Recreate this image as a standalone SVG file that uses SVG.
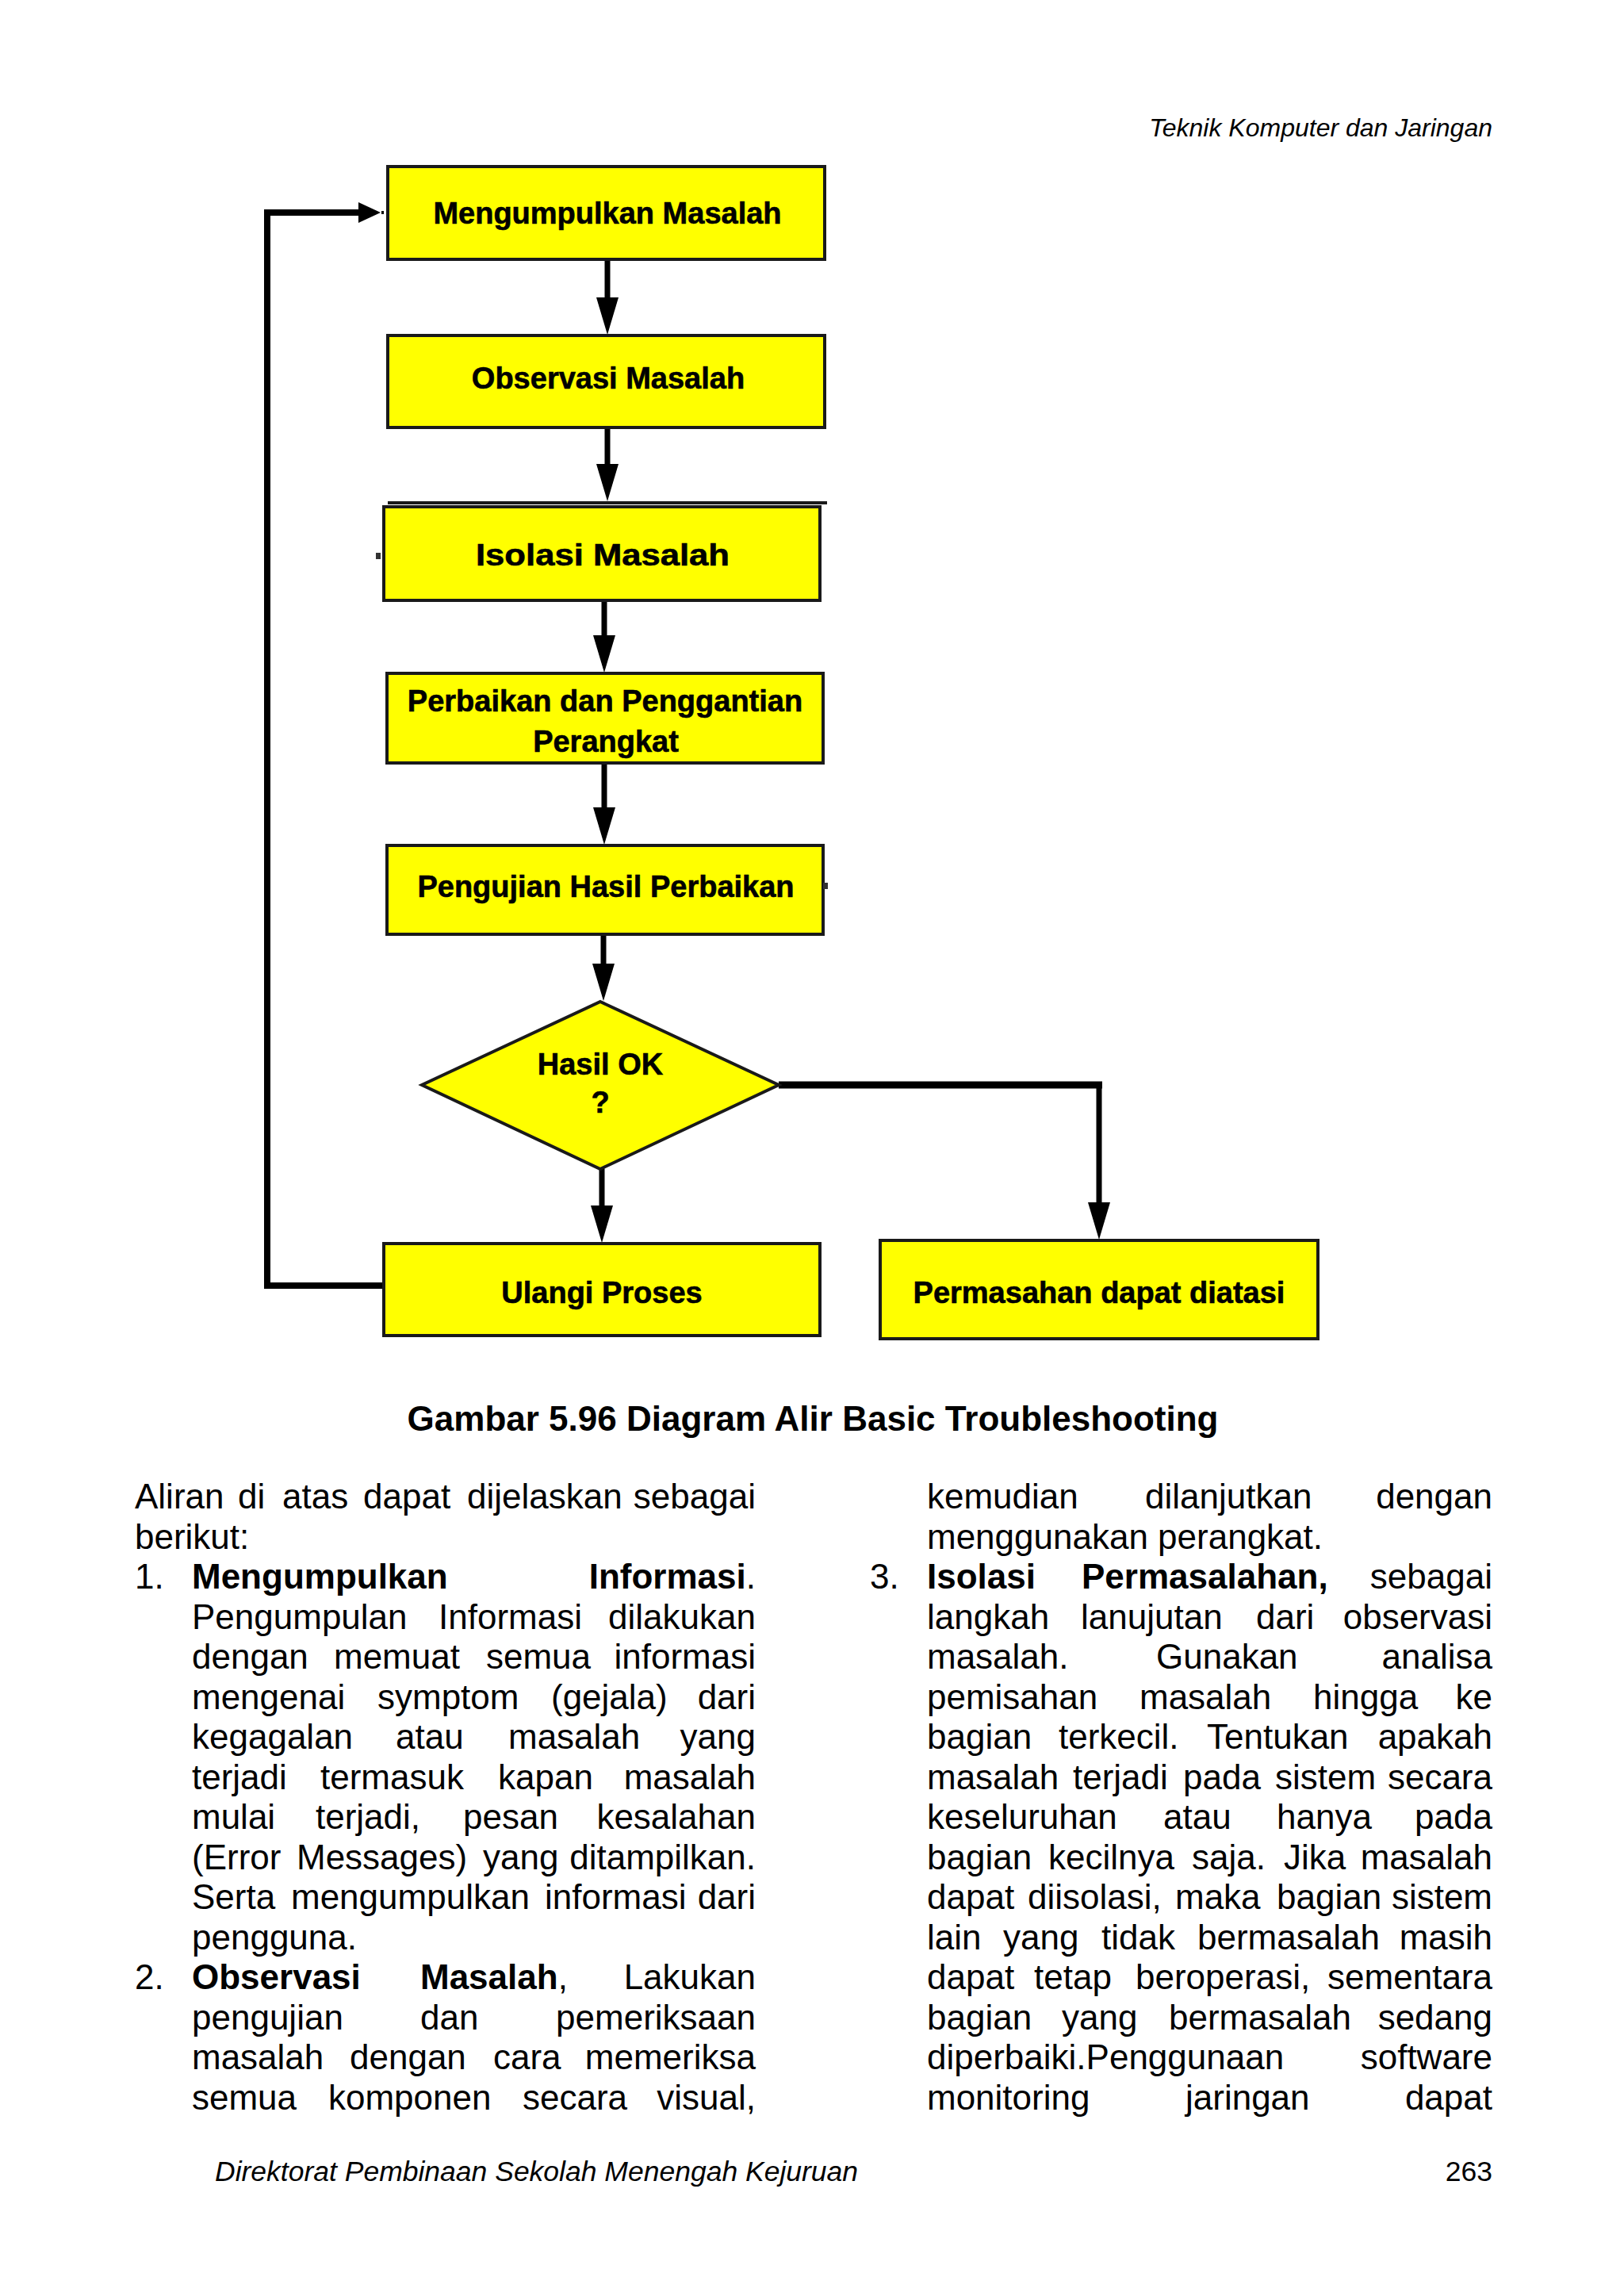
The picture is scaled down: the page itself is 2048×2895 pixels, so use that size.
<svg xmlns="http://www.w3.org/2000/svg" width="2048" height="2895" viewBox="0 0 2048 2895">
<style>
.box{fill:#FFFF00;stroke:#1a1a1a;stroke-width:4}
.lbl{font-family:"Liberation Sans",Arial,sans-serif;font-weight:bold;font-size:38px;fill:#000;stroke:#000;stroke-width:0.6;text-anchor:middle}
.t{font-family:"Liberation Sans",Arial,sans-serif;font-size:44px;fill:#000}
.bd{font-weight:bold}
.e{text-anchor:end}
.cap{font-family:"Liberation Sans",Arial,sans-serif;font-size:44px;font-weight:bold;text-anchor:middle}
.hdr{font-family:"Liberation Sans",Arial,sans-serif;font-style:italic;font-size:32px}
.ftr{font-family:"Liberation Sans",Arial,sans-serif;font-size:35.5px}
.ln{fill:none;stroke:#000;stroke-linejoin:miter}
</style>
<defs>
<marker id="ah" markerUnits="userSpaceOnUse" viewBox="0 0 47 28" markerWidth="47" markerHeight="28" refX="27" refY="14" orient="auto"><path d="M0,0 L47,14 L0,28 Z" fill="#000"/></marker>
<marker id="ah2" markerUnits="userSpaceOnUse" viewBox="0 0 28 26" markerWidth="28" markerHeight="26" refX="10" refY="13" orient="auto"><path d="M0,0 L28,13 L0,26 Z" fill="#000"/></marker>
</defs>
<rect width="2048" height="2895" fill="#ffffff"/>

<text class="hdr" x="1882" y="172" text-anchor="end">Teknik Komputer dan Jaringan</text>

<g id="connectors">
<path class="ln" stroke-width="7" d="M766,327 V402" marker-end="url(#ah)"/>
<path class="ln" stroke-width="7" d="M766,539 V612" marker-end="url(#ah)"/>
<path class="ln" stroke-width="7" d="M762,757 V828" marker-end="url(#ah)"/>
<path class="ln" stroke-width="7" d="M762,962 V1045" marker-end="url(#ah)"/>
<path class="ln" stroke-width="7" d="M761,1178 V1242" marker-end="url(#ah)"/>
<path class="ln" stroke-width="7" d="M759,1474 V1547" marker-end="url(#ah)"/>
<path class="ln" stroke-width="9" d="M982,1368 H1390"/>
<path class="ln" stroke-width="7" d="M1386,1364 V1543" marker-end="url(#ah)"/>
<path class="ln" stroke-width="8" d="M484,1621 H337 V268 H462" marker-end="url(#ah2)"/>
<path class="ln" stroke-width="4" stroke-dasharray="3,3" d="M481,268 H488"/>
</g>

<g id="n1"><rect class="box" x="489" y="210" width="551" height="117"/><text class="lbl" x="766" y="282">Mengumpulkan Masalah</text></g>
<g id="n2"><rect class="box" x="489" y="423" width="551" height="116"/><text class="lbl" x="767" y="490">Observasi Masalah</text></g>
<g id="n3"><line x1="489" y1="634" x2="1043" y2="634" stroke="#1a1a1a" stroke-width="4"/><rect class="box" x="484" y="639" width="550" height="118"/><text class="lbl" x="760" y="713" font-size="42" textLength="320" lengthAdjust="spacingAndGlyphs">Isolasi Masalah</text><rect x="474" y="697" width="6" height="8" fill="#333"/></g>
<g id="n4"><rect class="box" x="488" y="849" width="550" height="113"/><text class="lbl" x="763" y="897">Perbaikan dan Penggantian</text><text class="lbl" x="764" y="948">Perangkat</text></g>
<g id="n5"><rect class="box" x="488" y="1066" width="550" height="112"/><text class="lbl" x="764" y="1131">Pengujian Hasil Perbaikan</text><rect x="1038" y="1113" width="6" height="8" fill="#333"/></g>
<g id="n6"><polygon class="box" points="757,1263 982,1368 757,1474 532,1368"/><text class="lbl" x="757" y="1355">Hasil OK</text><text class="lbl" x="757" y="1403">?</text></g>
<g id="n7"><rect class="box" x="484" y="1568" width="550" height="116"/><text class="lbl" x="759" y="1643">Ulangi Proses</text></g>
<g id="n8"><rect class="box" x="1110" y="1564" width="552" height="124"/><text class="lbl" x="1386" y="1643">Permasahan dapat diatasi</text></g>

<text class="cap" x="1025" y="1804">Gambar 5.96 Diagram Alir Basic Troubleshooting</text>

<g id="col-left">
<text class="t" y="1902"><tspan x="170">Aliran</tspan><tspan x="300">di</tspan><tspan x="356">atas</tspan><tspan x="458">dapat</tspan><tspan x="589">dijelaskan</tspan><tspan x="953" class="e">sebagai</tspan></text>
<text class="t" y="1952.5" x="170">berikut:</text>
<text class="t" y="2003"><tspan x="170">1.</tspan><tspan x="242" class="bd">Mengumpulkan</tspan><tspan x="953" class="e"><tspan class="bd">Informasi</tspan>.</tspan></text>
<text class="t" y="2053.5"><tspan x="242">Pengumpulan</tspan><tspan x="553">Informasi</tspan><tspan x="953" class="e">dilakukan</tspan></text>
<text class="t" y="2104"><tspan x="242">dengan</tspan><tspan x="421">memuat</tspan><tspan x="613">semua</tspan><tspan x="953" class="e">informasi</tspan></text>
<text class="t" y="2154.5"><tspan x="242">mengenai</tspan><tspan x="476">symptom</tspan><tspan x="695">(gejala)</tspan><tspan x="953" class="e">dari</tspan></text>
<text class="t" y="2205"><tspan x="242">kegagalan</tspan><tspan x="499">atau</tspan><tspan x="641">masalah</tspan><tspan x="953" class="e">yang</tspan></text>
<text class="t" y="2255.5"><tspan x="242">terjadi</tspan><tspan x="404">termasuk</tspan><tspan x="628">kapan</tspan><tspan x="953" class="e">masalah</tspan></text>
<text class="t" y="2306"><tspan x="242">mulai</tspan><tspan x="398">terjadi,</tspan><tspan x="584">pesan</tspan><tspan x="953" class="e">kesalahan</tspan></text>
<text class="t" y="2356.5"><tspan x="242">(Error</tspan><tspan x="374">Messages)</tspan><tspan x="609">yang</tspan><tspan x="953" class="e">ditampilkan.</tspan></text>
<text class="t" y="2407"><tspan x="242">Serta</tspan><tspan x="367">mengumpulkan</tspan><tspan x="687">informasi</tspan><tspan x="953" class="e">dari</tspan></text>
<text class="t" y="2457.5" x="242">pengguna.</text>
<text class="t" y="2508"><tspan x="170">2.</tspan><tspan x="242" class="bd">Observasi</tspan><tspan x="530"><tspan class="bd">Masalah</tspan>,</tspan><tspan x="953" class="e">Lakukan</tspan></text>
<text class="t" y="2558.5"><tspan x="242">pengujian</tspan><tspan x="530">dan</tspan><tspan x="953" class="e">pemeriksaan</tspan></text>
<text class="t" y="2609"><tspan x="242">masalah</tspan><tspan x="441">dengan</tspan><tspan x="622">cara</tspan><tspan x="953" class="e">memeriksa</tspan></text>
<text class="t" y="2659.5"><tspan x="242">semua</tspan><tspan x="414">komponen</tspan><tspan x="659">secara</tspan><tspan x="953" class="e">visual,</tspan></text>
</g>

<g id="col-right">
<text class="t" y="1902"><tspan x="1169">kemudian</tspan><tspan x="1444">dilanjutkan</tspan><tspan x="1882" class="e">dengan</tspan></text>
<text class="t" y="1952.5" x="1169">menggunakan perangkat.</text>
<text class="t" y="2003"><tspan x="1097">3.</tspan><tspan x="1169" class="bd">Isolasi</tspan><tspan x="1364" class="bd">Permasalahan,</tspan><tspan x="1882" class="e">sebagai</tspan></text>
<text class="t" y="2053.5"><tspan x="1169">langkah</tspan><tspan x="1363">lanujutan</tspan><tspan x="1584">dari</tspan><tspan x="1882" class="e">observasi</tspan></text>
<text class="t" y="2104"><tspan x="1169">masalah.</tspan><tspan x="1458">Gunakan</tspan><tspan x="1882" class="e">analisa</tspan></text>
<text class="t" y="2154.5"><tspan x="1169">pemisahan</tspan><tspan x="1437">masalah</tspan><tspan x="1656">hingga</tspan><tspan x="1882" class="e">ke</tspan></text>
<text class="t" y="2205"><tspan x="1169">bagian</tspan><tspan x="1335">terkecil.</tspan><tspan x="1522">Tentukan</tspan><tspan x="1882" class="e">apakah</tspan></text>
<text class="t" y="2255.5"><tspan x="1169">masalah</tspan><tspan x="1353">terjadi</tspan><tspan x="1492">pada</tspan><tspan x="1608">sistem</tspan><tspan x="1882" class="e">secara</tspan></text>
<text class="t" y="2306"><tspan x="1169">keseluruhan</tspan><tspan x="1467">atau</tspan><tspan x="1610">hanya</tspan><tspan x="1882" class="e">pada</tspan></text>
<text class="t" y="2356.5"><tspan x="1169">bagian</tspan><tspan x="1322">kecilnya</tspan><tspan x="1503">saja.</tspan><tspan x="1619">Jika</tspan><tspan x="1882" class="e">masalah</tspan></text>
<text class="t" y="2407"><tspan x="1169">dapat</tspan><tspan x="1296">diisolasi,</tspan><tspan x="1482">maka</tspan><tspan x="1610">bagian</tspan><tspan x="1882" class="e">sistem</tspan></text>
<text class="t" y="2457.5"><tspan x="1169">lain</tspan><tspan x="1265">yang</tspan><tspan x="1389">tidak</tspan><tspan x="1510">bermasalah</tspan><tspan x="1882" class="e">masih</tspan></text>
<text class="t" y="2508"><tspan x="1169">dapat</tspan><tspan x="1304">tetap</tspan><tspan x="1432">beroperasi,</tspan><tspan x="1882" class="e">sementara</tspan></text>
<text class="t" y="2558.5"><tspan x="1169">bagian</tspan><tspan x="1339">yang</tspan><tspan x="1474">bermasalah</tspan><tspan x="1882" class="e">sedang</tspan></text>
<text class="t" y="2609"><tspan x="1169">diperbaiki.Penggunaan</tspan><tspan x="1882" class="e">software</tspan></text>
<text class="t" y="2659.5"><tspan x="1169">monitoring</tspan><tspan x="1495">jaringan</tspan><tspan x="1882" class="e">dapat</tspan></text>
</g>

<text class="ftr" x="271" y="2750" font-style="italic">Direktorat Pembinaan Sekolah Menengah Kejuruan</text>
<text class="ftr" x="1882" y="2750" text-anchor="end">263</text>
</svg>
